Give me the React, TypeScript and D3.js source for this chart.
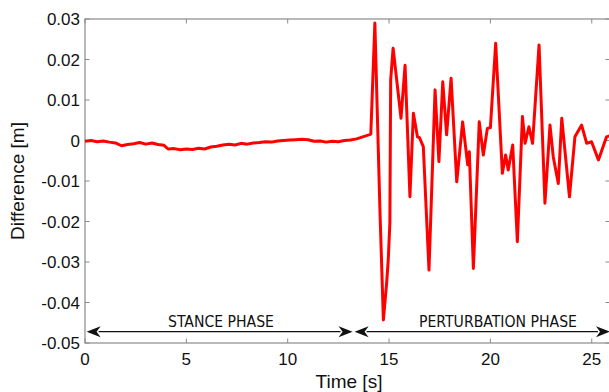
import React, { useEffect, useRef } from "react";
import * as d3 from "d3";

// time [s] and difference [m]
const times = [
  0, 0.3, 0.6, 0.9, 1.2, 1.5, 1.8, 2.1, 2.4, 2.7, 3.0, 3.3, 3.6, 3.9, 4.1, 4.4, 4.7, 5.0, 5.3, 5.6,
  5.9, 6.2, 6.5, 6.8, 7.1, 7.4, 7.7, 8.0, 8.3, 8.6, 8.9, 9.2, 9.5, 9.8, 10.1, 10.4, 10.7, 11.0, 11.3, 11.6,
  11.9, 12.2, 12.5, 12.8, 13.1, 13.4, 13.7, 14.0, 14.1, 14.3, 14.55, 14.72, 14.88, 14.96, 15.04, 15.08, 15.2,
  15.59, 15.79, 16.03, 16.2, 16.4, 16.5, 16.69, 16.97, 17.27, 17.46, 17.65, 17.84, 18.06, 18.34, 18.63,
  18.88, 18.96, 19.16, 19.45, 19.65, 19.85, 20.0, 20.26, 20.59, 20.75, 20.88, 21.1, 21.33, 21.58, 21.71,
  21.9, 22.08, 22.4, 22.69, 22.94, 23.1, 23.35, 23.52, 23.9, 24.17, 24.5, 24.75, 24.99, 25.33, 25.73, 25.9,
];
const diffs = [
  -0.0002, 0.0, -0.0003, -0.0001, -0.0004, -0.0006, -0.0013, -0.001, -0.0008, -0.0005, -0.0009, -0.0006,
  -0.001, -0.0012, -0.0021, -0.002, -0.0023, -0.0021, -0.0022, -0.0019, -0.0021, -0.0016, -0.0014, -0.0011,
  -0.0009, -0.0011, -0.0007, -0.0009, -0.0006, -0.0005, -0.0003, -0.0004, -0.0001, 0.0, 0.0001, 0.0002,
  0.0003, 0.0002, -0.0002, -0.0001, -0.0004, -0.0002, -0.0003, 0.0, 0.0001, 0.0004, 0.0009, 0.0014, 0.0016,
  0.029, -0.0172, -0.0443, -0.0353, -0.0295, -0.0204, 0.0149, 0.0228, 0.0055, 0.0186, -0.0139, 0.0067,
  0.0009, 0.0007, -0.0015, -0.032, 0.0125, -0.0052, 0.0145, 0.0014, 0.0154, -0.0102, 0.0046, -0.006,
  -0.0028, -0.0316, 0.0046, -0.0036, 0.003, 0.0032, 0.024, -0.0081, -0.0036, -0.0073, -0.0011, -0.025,
  0.0059, -0.0007, 0.0034, -0.0007, 0.0236, -0.0155, 0.0038, -0.004, -0.0106, 0.0055, -0.0139, 0.0009,
  0.0038, -0.0007, -0.0003, -0.0048, 0.0009, 0.0012,
];
const xTicks = [0, 5, 10, 15, 20, 25];
const yTicks = [0.03, 0.02, 0.01, 0, -0.01, -0.02, -0.03, -0.04, -0.05];
const phases = [
  { label: "STANCE PHASE", from: 0.08, to: 13.2 },
  { label: "PERTURBATION PHASE", from: 13.3, to: 25.9 },
];

const W = 609;
const H = 392;
const margin = { top: 19, right: -1, bottom: 49, left: 85 };

export default function App() {
  const ref = useRef<SVGSVGElement>(null);

  useEffect(() => {
    const svg = d3.select(ref.current);
    svg.selectAll("*").remove();

    const x = d3.scaleLinear().domain([0, 25.9]).range([margin.left, W - margin.right]);
    const y = d3.scaleLinear().domain([-0.05, 0.03]).range([H - margin.bottom, margin.top]);
    const font = "Liberation Sans, Arial, sans-serif";
    const axisColor = "#8a8a8a";

    // frame
    svg.append("rect")
      .attr("x", x(0)).attr("y", y(0.03))
      .attr("width", x(25.9) - x(0)).attr("height", y(-0.05) - y(0.03))
      .attr("fill", "none").attr("stroke", axisColor).attr("stroke-width", 1.2);

    // inward ticks on all four sides
    const tickLen = 4.5;
    xTicks.forEach(t => {
      svg.append("line").attr("x1", x(t)).attr("x2", x(t))
        .attr("y1", y(-0.05)).attr("y2", y(-0.05) - tickLen).attr("stroke", axisColor);
      svg.append("line").attr("x1", x(t)).attr("x2", x(t))
        .attr("y1", y(0.03)).attr("y2", y(0.03) + tickLen).attr("stroke", axisColor);
    });
    yTicks.forEach(v => {
      svg.append("line").attr("x1", x(0)).attr("x2", x(0) + tickLen)
        .attr("y1", y(v)).attr("y2", y(v)).attr("stroke", axisColor);
      svg.append("line").attr("x1", x(25.9)).attr("x2", x(25.9) - tickLen)
        .attr("y1", y(v)).attr("y2", y(v)).attr("stroke", axisColor);
    });

    // tick labels
    svg.append("g").selectAll("text").data(xTicks).join("text")
      .attr("x", d => x(d)).attr("y", y(-0.05) + 22)
      .attr("text-anchor", "middle").attr("font-family", font).attr("font-size", 17)
      .attr("fill", "#111").text(d => d);
    svg.append("g").selectAll("text").data(yTicks).join("text")
      .attr("x", x(0) - 5).attr("y", d => y(d) + 6)
      .attr("text-anchor", "end").attr("font-family", font).attr("font-size", 17)
      .attr("fill", "#111").text(d => (d === 0 ? "0" : d3.format(".2f")(d).replace("−", "-")));

    // axis titles
    svg.append("text")
      .attr("x", 349).attr("y", 388)
      .attr("text-anchor", "middle").attr("font-family", font).attr("font-size", 19)
      .attr("fill", "#111").text("Time [s]");
    svg.append("text")
      .attr("transform", `translate(24, ${(y(0.03) + y(-0.05)) / 2}) rotate(-90)`)
      .attr("text-anchor", "middle").attr("font-family", font).attr("font-size", 19)
      .attr("fill", "#111").text("Difference [m]");

    // data line
    const pts: [number, number][] = times.map((t, i) => [t, diffs[i]]);
    const line = d3.line<[number, number]>().x(d => x(d[0])).y(d => y(d[1]));
    svg.append("path")
      .datum(pts)
      .attr("d", line)
      .attr("fill", "none").attr("stroke", "#ff0000")
      .attr("stroke-width", 3).attr("stroke-linejoin", "round");

    // phase arrows
    const arrowY = 331.7;
    const headL = 14;
    const headW = 5.5;
    phases.forEach(p => {
      const x1 = x(p.from);
      const x2 = x(p.to);
      svg.append("line").attr("x1", x1 + headL - 2).attr("x2", x2 - headL + 2)
        .attr("y1", arrowY).attr("y2", arrowY).attr("stroke", "#111").attr("stroke-width", 1.2);
      svg.append("path")
        .attr("d", `M${x1},${arrowY} L${x1 + headL},${arrowY - headW} L${x1 + headL - 4},${arrowY} L${x1 + headL},${arrowY + headW} Z`)
        .attr("fill", "#111");
      svg.append("path")
        .attr("d", `M${x2},${arrowY} L${x2 - headL},${arrowY - headW} L${x2 - headL + 4},${arrowY} L${x2 - headL},${arrowY + headW} Z`)
        .attr("fill", "#111");
    });
    const phaseText = (label: string, cx: number, len: number) =>
      svg.append("text").attr("x", cx).attr("y", 327)
        .attr("text-anchor", "middle").attr("font-family", "DejaVu Sans Condensed, sans-serif")
        .attr("font-size", 15).attr("textLength", len).attr("lengthAdjust", "spacingAndGlyphs")
        .attr("fill", "#111").text(label);
    phaseText(phases[0].label, 221, 106);
    phaseText(phases[1].label, 498, 158);
  }, []);

  return (
    <svg
      ref={ref}
      width={W}
      height={H}
      style={{ position: "absolute", left: 0, top: 0, background: "#fff" }}
    />
  );
}
